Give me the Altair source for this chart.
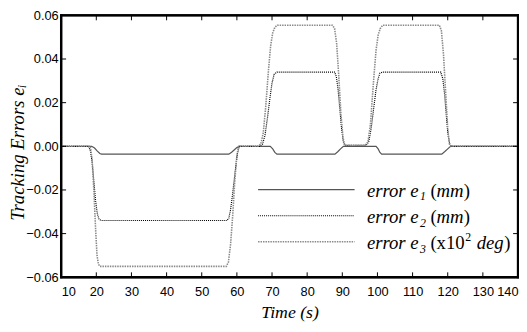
import altair as alt
import pandas as pd

# ---- data ----
e1_t = [10, 18.7, 19.5, 20.3, 21, 21.5, 57.7, 58.5, 59.3, 60, 60.8,
        69.5, 70.2, 70.8, 71.4, 87.9, 88.7, 89.5, 90.3,
        99.6, 100.2, 100.7, 101.2, 118.3, 119.1, 120, 120.8, 140]
e1_v = [0, 0, -0.0008, -0.0022, -0.0033, -0.0036, -0.0036, -0.0027, -0.0016, -0.0006, 0,
        0, -0.0012, -0.0028, -0.0036, -0.0036, -0.0025, -0.0012, 0,
        0, -0.0012, -0.0028, -0.0036, -0.0036, -0.0025, -0.0012, 0, 0]

e2_t = [10, 17.8, 18.3, 18.8, 19.3, 19.8, 20.3, 20.8, 21.4,
        57.2, 57.7, 58.2, 58.7, 59.2, 59.7, 60.2, 60.7,
        66.5, 67.3, 68, 68.7, 69.4, 70, 70.6, 71.4,
        87.8, 88.3, 88.8, 89.3, 89.8, 90.3, 90.7,
        96.8, 97.5, 98.2, 98.9, 99.6, 100.2, 100.7, 101.4,
        118, 118.6, 119.1, 119.6, 120.1, 120.6, 121, 140]
e2_v = [0, 0, -0.002, -0.007, -0.016, -0.025, -0.031, -0.0335, -0.034,
        -0.034, -0.033, -0.029, -0.023, -0.016, -0.009, -0.003, 0,
        0, 0.001, 0.005, 0.013, 0.022, 0.029, 0.033, 0.034,
        0.034, 0.032, 0.026, 0.017, 0.008, 0.002, 0.0005,
        0.0005, 0.002, 0.008, 0.017, 0.026, 0.031, 0.0335, 0.034,
        0.034, 0.031, 0.024, 0.014, 0.005, 0.001, 0, 0]

e3_t = [10, 18.3, 18.8, 19.3, 19.8, 20.2, 20.6, 21,
        57, 57.6, 58.2, 58.8, 59.4, 60, 60.5,
        66, 66.8, 67.5, 68.2, 69, 69.6, 70.2, 70.8, 71.5,
        87.2, 87.8, 88.4, 89, 89.6, 90.2, 90.7,
        96.5, 97.3, 98, 98.8, 99.6, 100.2, 100.8, 101.5,
        117.6, 118.2, 118.8, 119.4, 120, 120.5, 121, 140]
e3_v = [0, 0, -0.006, -0.02, -0.038, -0.05, -0.054, -0.055,
        -0.055, -0.053, -0.045, -0.032, -0.016, -0.004, 0,
        0, 0.001, 0.006, 0.018, 0.035, 0.046, 0.052, 0.0545, 0.0555,
        0.0555, 0.054, 0.047, 0.032, 0.015, 0.004, 0.0005,
        0.0005, 0.002, 0.01, 0.028, 0.044, 0.051, 0.054, 0.0555,
        0.0555, 0.053, 0.042, 0.025, 0.008, 0.001, 0, 0]

x_ticks = list(range(10, 141, 10))
y_ticks = [-0.06, -0.04, -0.02, 0.0, 0.02, 0.04, 0.06]
x_inner_ticks = list(range(20, 131, 10))
y_inner_ticks = [-0.04, -0.02, 0.0, 0.02, 0.04]

W, H = 464, 266
xs = alt.Scale(domain=[10, 140], nice=False, zero=False)
ys = alt.Scale(domain=[-0.06, 0.06], nice=False, zero=False)

x_axis = alt.Axis(
    values=x_ticks, title="Time (s)", labelFlush=True, ticks=False,
    domain=False, grid=False,
    labelFont="Liberation Sans", labelFontSize=13,
    labelColor="black", labelPadding=9, titleFont="Liberation Serif",
    titleFontStyle="italic", titleFontWeight="normal", titleFontSize=18,
    titleColor="black", titlePadding=5)
y_axis = alt.Axis(
    values=y_ticks, format=".2f", title="Tracking Errors eᵢ", ticks=False,
    domain=False, grid=False,
    labelFont="Liberation Sans", labelFontSize=13,
    labelColor="black", labelPadding=3, labelFlush=False,
    titleFont="Liberation Serif", titleFontStyle="italic",
    titleFontWeight="normal", titleFontSize=19, titleColor="black",
    titleX=-44, titleY=139, titleAngle=270, titleAlign="center",
    titleBaseline="middle")

def X(field="t"):
    return alt.X(f"{field}:Q", scale=xs, axis=x_axis, title="Time (s)")

def Y(field="v"):
    return alt.Y(f"{field}:Q", scale=ys, axis=y_axis, title="Tracking Errors eᵢ")

def series(t, v, color, width, dash=None):
    df = pd.DataFrame({"t": t, "v": v})
    mk = dict(color=color, strokeWidth=width, interpolate="linear")
    if dash:
        mk["strokeDash"] = dash
    return alt.Chart(df).mark_line(**mk).encode(x=X(), y=Y(), order="t:Q")

l1 = series(e1_t, e1_v, "#555555", 1.2)
l2 = series(e2_t, e2_v, "#000000", 1.2, dash=[1, 1])
l3 = series(e3_t, e3_v, "#8a8a8a", 1.6, dash=[1.5, 1])

xt = pd.DataFrame({"t": x_inner_ticks})
yt = pd.DataFrame({"v": y_inner_ticks})
tick_style = dict(color="black", strokeWidth=1)
tb = alt.Chart(xt).mark_rule(**tick_style).encode(x=X(), y=alt.value(H), y2=alt.value(H - 5))
tt = alt.Chart(xt).mark_rule(**tick_style).encode(x=X(), y=alt.value(0), y2=alt.value(5))
tl = alt.Chart(yt).mark_rule(**tick_style).encode(y=Y(), x=alt.value(0), x2=alt.value(5))
tr = alt.Chart(yt).mark_rule(**tick_style).encode(y=Y(), x=alt.value(W), x2=alt.value(W - 5))

# frame: four thick black edges, drawn as rules in pixel space
fr = pd.DataFrame({
    "x1": [-1, -1, 0, W],
    "x2": [W + 1, W + 1, 0, W],
    "y1": [0, H, -1, -1],
    "y2": [0, H, H + 1, H + 1],
})
frame = alt.Chart(fr).mark_rule(color="#000000", strokeWidth=2.4, opacity=1).encode(
    x=alt.X("x1:Q", scale=None), x2="x2:Q",
    y=alt.Y("y1:Q", scale=None), y2="y2:Q")

# ---- legend (drawn in pixels) ----
leg_colors = ["#555555", "#000000", "#8a8a8a"]
leg_widths = [1.2, 1.2, 1.6]
leg_dash = [[1, 0], [1, 1], [1.5, 1]]
leg_row_y = [177, 203.5, 230]
legend_layers = []
for i in range(3):
    d = pd.DataFrame({"a": [200], "b": [298], "y": [leg_row_y[i]]})
    legend_layers.append(alt.Chart(d).mark_rule(
        color=leg_colors[i], strokeWidth=leg_widths[i], strokeDash=leg_dash[i]).encode(
        x=alt.X("a:Q", scale=None), x2="b:Q", y=alt.Y("y:Q", scale=None)))

seg_text, seg_x, seg_y, seg_kind = [], [], [], []
for i, sub in enumerate(["1", "2", "3"]):
    B = leg_row_y[i] + 7
    seg_text += ["error e", sub, "("]
    seg_x += [310.5, 364.5, 375]
    seg_y += [B, B + 4, B]
    seg_kind += ["it", "sub", "up"]
    if i < 2:
        seg_text += ["mm", ")"]
        seg_x += [381.3, 408.8]
        seg_y += [B, B]
        seg_kind += ["it", "up"]
    else:
        seg_text += ["x10", "2", "deg", ")"]
        seg_x += [381.3, 410.5, 422, 450]
        seg_y += [B, B - 8, B, B]
        seg_kind += ["up", "sup", "it", "up"]
segs = pd.DataFrame({"text": seg_text, "x": seg_x, "y": seg_y, "kind": seg_kind})

kind_style = {
    "it": dict(fontStyle="italic", fontSize=19),
    "up": dict(fontStyle="normal", fontSize=19),
    "sub": dict(fontStyle="italic", fontSize=12),
    "sup": dict(fontStyle="normal", fontSize=12),
}
for k, st in kind_style.items():
    legend_layers.append(alt.Chart(segs).transform_filter(alt.datum.kind == k).mark_text(
        font="Liberation Serif", color="black", align="left", baseline="alphabetic", **st
    ).encode(x=alt.X("x:Q", scale=None), y=alt.Y("y:Q", scale=None), text="text:N"))

chart = alt.layer(l1, l2, l3, tb, tt, tl, tr, frame, *legend_layers).properties(
    width=W, height=H,
    padding={"left": 54, "top": 5, "right": 1, "bottom": 45},
    autosize=alt.AutoSizeParams(type="none"),
).configure_view(stroke="#000000", strokeWidth=2)

chart.save("out.html", embed_options={"renderer": "svg", "actions": False})
